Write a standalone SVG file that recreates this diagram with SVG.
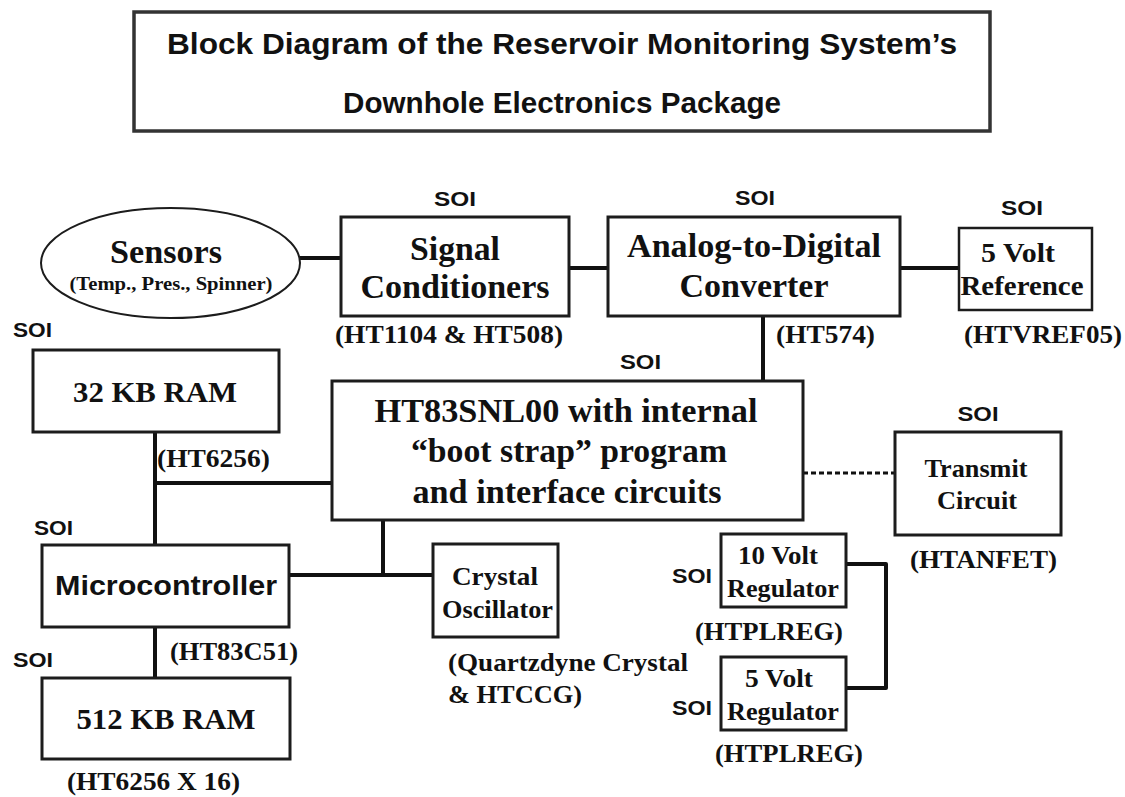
<svg xmlns="http://www.w3.org/2000/svg" width="1125" height="797" viewBox="0 0 1125 797">
<style>
.box{fill:#fff;stroke:#1c1c1c;stroke-width:3}
.thin{stroke-width:2.5}
.conn{stroke:#111;stroke-width:4;fill:none}
.dot{stroke:#111;stroke-width:3;fill:none;stroke-dasharray:5 3}
.t{font-family:"Liberation Serif","Times New Roman",serif;font-weight:bold;fill:#111;text-anchor:middle}
.ts{font-family:"Liberation Serif","Times New Roman",serif;font-weight:bold;fill:#111}
.s{font-family:"Liberation Sans",Arial,sans-serif;font-weight:bold;fill:#111}
.soi{font-family:"Liberation Sans",Arial,sans-serif;font-weight:bold;fill:#111;font-size:20px}
.big{font-size:33px}
.mid{font-size:30px}
.sm{font-size:26px}
</style>
<rect width="1125" height="797" fill="#fff"/>
<g id="title">
<rect x="134" y="12" width="856" height="119" fill="#fff" stroke="#333" stroke-width="3.5"/>
<text class="s" x="562" y="54" font-size="30" text-anchor="middle" textLength="790" lengthAdjust="spacingAndGlyphs">Block Diagram of the Reservoir Monitoring System’s</text>
<text class="s" x="562" y="113" font-size="30" text-anchor="middle" textLength="438" lengthAdjust="spacingAndGlyphs">Downhole Electronics Package</text>
</g>
<g id="connectors">
<line class="conn" x1="300" y1="258" x2="341" y2="258"/>
<line class="conn" x1="569" y1="268" x2="608" y2="268"/>
<line class="conn" x1="900" y1="268" x2="959" y2="268"/>
<line class="conn" x1="763" y1="316" x2="763" y2="381"/>
<line class="conn" x1="155" y1="432" x2="155" y2="545"/>
<line class="conn" x1="155" y1="483" x2="332" y2="483"/>
<line class="conn" x1="383" y1="520" x2="383" y2="575"/>
<line class="conn" x1="289" y1="575" x2="433" y2="575"/>
<line class="conn" x1="155" y1="627" x2="155" y2="678"/>
<line class="dot" x1="803" y1="473" x2="895" y2="473"/>
<path class="conn" d="M846 564 H886 V688 H846" stroke-linejoin="round"/>
</g>
<g id="sensors">
<ellipse cx="170.5" cy="263" rx="129.5" ry="55" fill="#fff" stroke="#1c1c1c" stroke-width="2"/>
<text class="t big" x="166" y="263" textLength="112" lengthAdjust="spacingAndGlyphs">Sensors</text>
<text class="t" x="171" y="290" font-size="18" textLength="203" lengthAdjust="spacingAndGlyphs">(Temp., Pres., Spinner)</text>
</g>
<g id="signal-conditioners">
<rect class="box" x="341" y="217" width="228" height="99"/>
<text class="soi" x="455" y="206" text-anchor="middle" textLength="42" lengthAdjust="spacingAndGlyphs">SOI</text>
<text class="t big" x="455" y="260" textLength="90" lengthAdjust="spacingAndGlyphs">Signal</text>
<text class="t big" x="455" y="298" textLength="189" lengthAdjust="spacingAndGlyphs">Conditioners</text>
<text class="t sm" x="449" y="343" textLength="228" lengthAdjust="spacingAndGlyphs">(HT1104 &amp; HT508)</text>
</g>
<g id="adc">
<rect class="box" x="608" y="217" width="292" height="99"/>
<text class="soi" x="755" y="205" text-anchor="middle" textLength="40" lengthAdjust="spacingAndGlyphs">SOI</text>
<text class="t big" x="754" y="257" textLength="254" lengthAdjust="spacingAndGlyphs">Analog-to-Digital</text>
<text class="t big" x="754" y="297" textLength="149" lengthAdjust="spacingAndGlyphs">Converter</text>
<text class="ts sm" x="776" y="343" textLength="99" lengthAdjust="spacingAndGlyphs">(HT574)</text>
</g>
<g id="vref">
<rect class="box thin" x="959" y="228" width="133" height="82"/>
<text class="soi" x="1022" y="215" text-anchor="middle" textLength="42" lengthAdjust="spacingAndGlyphs">SOI</text>
<text class="t" x="1018" y="262" font-size="27" textLength="74" lengthAdjust="spacingAndGlyphs">5 Volt</text>
<text class="t" x="1022" y="295" font-size="27" textLength="123" lengthAdjust="spacingAndGlyphs">Reference</text>
<text class="ts sm" x="964" y="343" textLength="158" lengthAdjust="spacingAndGlyphs">(HTVREF05)</text>
</g>
<g id="ram32">
<rect class="box" x="33" y="350" width="246" height="82"/>
<text class="soi" x="13" y="337" textLength="39" lengthAdjust="spacingAndGlyphs">SOI</text>
<text class="t mid" x="155" y="402" textLength="164" lengthAdjust="spacingAndGlyphs">32 KB RAM</text>
<text class="ts sm" x="157" y="467" textLength="113" lengthAdjust="spacingAndGlyphs">(HT6256)</text>
</g>
<g id="ht83snl00">
<rect class="box" x="332" y="381" width="471" height="139"/>
<text class="soi" x="620" y="369" textLength="41" lengthAdjust="spacingAndGlyphs">SOI</text>
<text class="t big" x="566" y="422" textLength="383" lengthAdjust="spacingAndGlyphs">HT83SNL00 with internal</text>
<text class="t big" x="569" y="462" textLength="316" lengthAdjust="spacingAndGlyphs">“boot strap” program</text>
<text class="t big" x="567" y="503" textLength="309" lengthAdjust="spacingAndGlyphs">and interface circuits</text>
</g>
<g id="microcontroller">
<rect class="box" x="42" y="545" width="247" height="82"/>
<text class="soi" x="34" y="535" textLength="39" lengthAdjust="spacingAndGlyphs">SOI</text>
<text class="s" x="166" y="595" font-size="27" text-anchor="middle" textLength="222" lengthAdjust="spacingAndGlyphs">Microcontroller</text>
<text class="ts sm" x="170" y="660" textLength="128" lengthAdjust="spacingAndGlyphs">(HT83C51)</text>
</g>
<g id="ram512">
<rect class="box" x="42" y="678" width="248" height="81"/>
<text class="soi" x="13" y="667" textLength="40" lengthAdjust="spacingAndGlyphs">SOI</text>
<text class="t mid" x="166" y="729" textLength="179" lengthAdjust="spacingAndGlyphs">512 KB RAM</text>
<text class="ts sm" x="67" y="790" textLength="173" lengthAdjust="spacingAndGlyphs">(HT6256 X 16)</text>
</g>
<g id="crystal">
<rect class="box" x="433" y="544" width="125" height="93"/>
<text class="t sm" x="495" y="585" textLength="86" lengthAdjust="spacingAndGlyphs">Crystal</text>
<text class="t sm" x="497.5" y="618" textLength="111" lengthAdjust="spacingAndGlyphs">Oscillator</text>
<text class="ts" x="448" y="671" font-size="25" textLength="240" lengthAdjust="spacingAndGlyphs">(Quartzdyne Crystal</text>
<text class="ts" x="448" y="703" font-size="25" textLength="134" lengthAdjust="spacingAndGlyphs">&amp; HTCCG)</text>
</g>
<g id="transmit">
<rect class="box" x="895" y="432" width="166" height="103"/>
<text class="soi" x="978" y="421" text-anchor="middle" textLength="41" lengthAdjust="spacingAndGlyphs">SOI</text>
<text class="t sm" x="976" y="477" textLength="103" lengthAdjust="spacingAndGlyphs">Transmit</text>
<text class="t sm" x="977" y="509" textLength="80" lengthAdjust="spacingAndGlyphs">Circuit</text>
<text class="ts sm" x="910" y="568" textLength="147" lengthAdjust="spacingAndGlyphs">(HTANFET)</text>
</g>
<g id="reg10">
<rect class="box" x="721" y="534" width="125" height="73"/>
<text class="soi" x="672" y="583" textLength="40" lengthAdjust="spacingAndGlyphs">SOI</text>
<text class="t sm" x="778" y="564" textLength="80" lengthAdjust="spacingAndGlyphs">10 Volt</text>
<text class="t sm" x="783" y="597" textLength="112" lengthAdjust="spacingAndGlyphs">Regulator</text>
<text class="ts sm" x="695" y="640" textLength="148" lengthAdjust="spacingAndGlyphs">(HTPLREG)</text>
</g>
<g id="reg5">
<rect class="box" x="721" y="657" width="125" height="73"/>
<text class="soi" x="672" y="715" textLength="40" lengthAdjust="spacingAndGlyphs">SOI</text>
<text class="t sm" x="779" y="687" textLength="68" lengthAdjust="spacingAndGlyphs">5 Volt</text>
<text class="t sm" x="783" y="720" textLength="112" lengthAdjust="spacingAndGlyphs">Regulator</text>
<text class="ts sm" x="715" y="762" textLength="148" lengthAdjust="spacingAndGlyphs">(HTPLREG)</text>
</g>
</svg>
